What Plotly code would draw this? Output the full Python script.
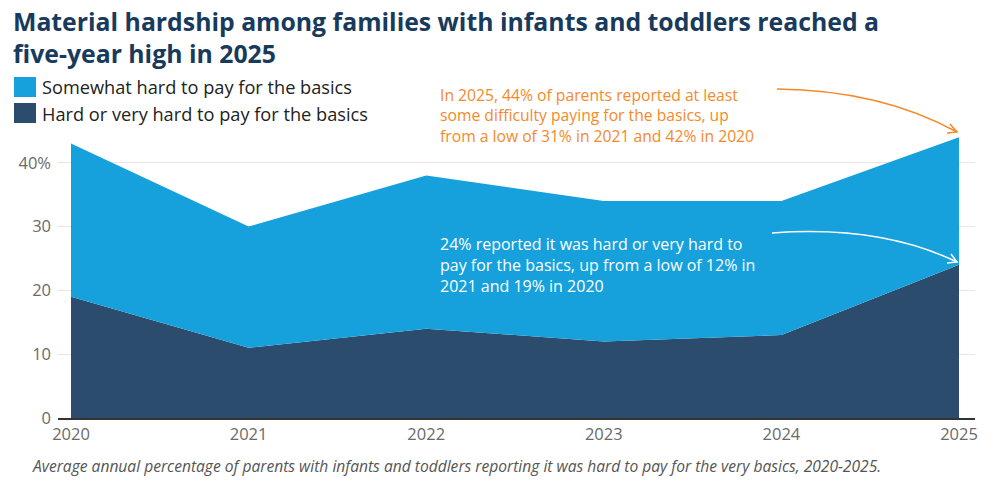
import plotly.graph_objects as go

years = [2020, 2021, 2022, 2023, 2024, 2025]
hard = [19, 11, 14, 12, 13, 24]
somewhat = [24, 19, 24, 22, 21, 20]
y_ticks = [0, 10, 20, 30, 40]
y_tick_labels = ["0", "10", "20", "30", "40%"]

LIGHT = "#16a1dd"
DARK = "#2c4c6d"
ORANGE = "#f5892a"
FONT = "Open Sans"

W, H = 999, 480
ML, MR, MT, MB = 58, 24, 134, 62


def px(x):
    return (x - ML) / (W - ML - MR)


def py(y):
    return (H - MB - y) / (H - MT - MB)


fig = go.Figure()
fig.add_trace(go.Scatter(x=years, y=hard, stackgroup="one", mode="none",
                         fillcolor=DARK, name="Hard or very hard to pay for the basics",
                         hoverinfo="skip"))
fig.add_trace(go.Scatter(x=years, y=somewhat, stackgroup="one", mode="none",
                         fillcolor=LIGHT, name="Somewhat hard to pay for the basics",
                         hoverinfo="skip"))

shapes = []
# legend swatches
shapes.append(dict(type="rect", xref="paper", yref="paper", x0=px(14), x1=px(36),
                   y0=py(97), y1=py(77), fillcolor=LIGHT, line=dict(width=0)))
shapes.append(dict(type="rect", xref="paper", yref="paper", x0=px(14), x1=px(36),
                   y0=py(123), y1=py(103), fillcolor=DARK, line=dict(width=0)))


def curved_arrow(x0, y0, cx, cy, x1, y1, color, hx1, hy1, hx2, hy2):
    shapes.append(dict(type="path", xref="paper", yref="paper",
                       path=f"M {px(x0)},{py(y0)} Q {px(cx)},{py(cy)} {px(x1)},{py(y1)}",
                       line=dict(color=color, width=1.5), layer="above"))
    shapes.append(dict(type="path", xref="paper", yref="paper",
                       path=f"M {px(hx1)},{py(hy1)} L {px(x1)},{py(y1)} L {px(hx2)},{py(hy2)}",
                       line=dict(color=color, width=1.5), layer="above"))


curved_arrow(777, 89, 880, 90, 957, 132, ORANGE, 950, 124, 947, 133)
curved_arrow(772, 233, 880, 225, 957, 262, "white", 951, 254, 947, 263)


def label(text, x, y, size, color, anchor="middle"):
    return dict(text=text, xref="paper", yref="paper", x=px(x), y=py(y),
                xanchor="left", yanchor=anchor, align="left", showarrow=False,
                font=dict(family=FONT, size=size, color=color))


annotations = [
    label("<b>Material hardship among families with infants and toddlers reached a<br>five-year high in 2025</b>",
          11, 2, 24.8, "#183a5c", "top"),
    label("Somewhat hard to pay for the basics", 40, 87, 18.2, "#222"),
    label("Hard or very hard to pay for the basics", 40, 114, 18.2, "#222"),
    label("In 2025, 44% of parents reported at least<br>some difficulty paying for the basics, up<br>from a low of 31% in 2021 and 42% in 2020",
          438, 82, 15.7, ORANGE, "top"),
    label("24% reported it was hard or very hard to<br>pay for the basics, up from a low of 12% in<br>2021 and 19% in 2020",
          438, 231, 16, "white", "top"),
    label("<i>Average annual percentage of parents with infants and toddlers reporting it was hard to pay for the very basics, 2020-2025.</i>",
          30, 466, 15.6, "#555"),
]

fig.update_layout(
    width=W, height=H,
    margin=dict(l=ML, r=MR, t=MT, b=MB),
    paper_bgcolor="white", plot_bgcolor="white",
    showlegend=False,
    shapes=shapes,
    annotations=annotations,
    xaxis=dict(range=[2020 - 13 / 177.6, 2025 + 16 / 177.6], tickvals=years,
               ticktext=[str(y) for y in years], showgrid=False, zeroline=False,
               showline=True, linecolor="#333", linewidth=2, ticks="",
               tickfont=dict(family=FONT, size=16.5, color="#6a6a6a")),
    yaxis=dict(range=[0, 44.5], tickvals=y_ticks, ticktext=y_tick_labels,
               showgrid=True, gridcolor="#e6e6e6", gridwidth=1, zeroline=False,
               showline=False, ticks="", ticklabelstandoff=6,
               tickfont=dict(family=FONT, size=16.5, color="#6a6a6a")),
)

fig.write_html("out.html", config={"displayModeBar": False},
               post_script="document.body.style.margin='0';document.body.style.overflow='hidden';")
